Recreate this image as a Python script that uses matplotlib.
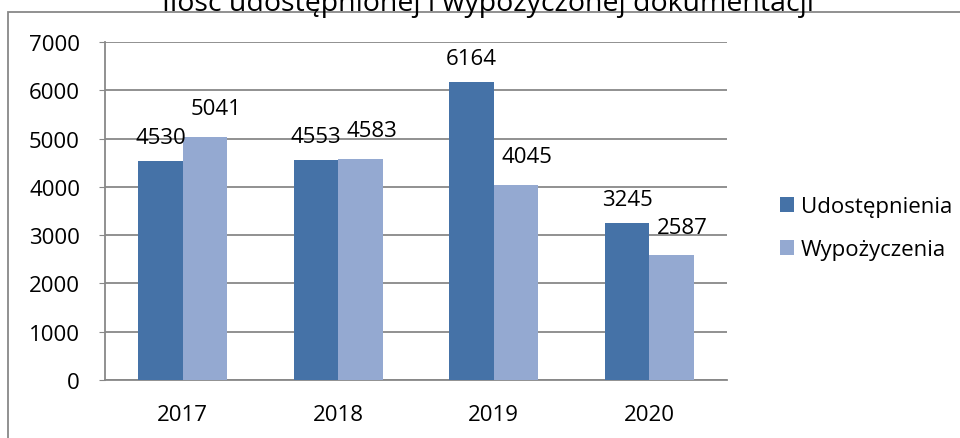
import numpy as np
import matplotlib
matplotlib.use('Agg')
from matplotlib import pyplot as plt
from matplotlib.patches import Rectangle

years = ['2017', '2018', '2019', '2020']
udostepnienia = [4530, 4553, 6164, 3245]
wypozyczenia = [5041, 4583, 4045, 2587]

plt.rcParams['font.family'] = ['Open Sans', 'DejaVu Sans']

fig = plt.figure(figsize=(9.6, 4.39), dpi=100)
ax = fig.add_axes([105/960, 58/439, 622/960, 338/439])

x = np.arange(len(years))
w = 0.285
dark = '#4572A7'
light = '#94A9D1'
grey = '#888888'

b1 = ax.bar(x - w/2, udostepnienia, w, color=dark, label='Udostępnienia', zorder=3)
b2 = ax.bar(x + w/2, wypozyczenia, w, color=light, label='Wypożyczenia', zorder=3)

for xi, v in zip(x - w/2, udostepnienia):
    ax.annotate(str(v), (xi, v), xytext=(0, 13), textcoords='offset points',
                ha='center', va='baseline', fontsize=16)
for xi, v in zip(x + w/2, wypozyczenia):
    ax.annotate(str(v), (xi, v), xytext=(8, 16), textcoords='offset points',
                ha='center', va='baseline', fontsize=16)

ax.set_xlim(-0.5, 3.5)
ax.set_ylim(0, 7000)
ax.set_yticks(range(0, 7001, 1000))
ax.set_xticks(x)
ax.set_xticklabels(years)
ax.yaxis.grid(True, color=grey, lw=1.3, zorder=0)
for s in ['top', 'right']:
    ax.spines[s].set_visible(False)
for s in ['left', 'bottom']:
    ax.spines[s].set_color(grey)
    ax.spines[s].set_linewidth(1.3)
ax.tick_params(axis='y', length=4, color=grey, labelsize=16, pad=14)
ax.tick_params(axis='x', length=0, labelsize=16, pad=17)

fig.legend(handles=[b1, b2], loc='center left', bbox_to_anchor=(760/960, 1 - 229/439),
           frameon=False, fontsize=16, handlelength=0.65, handleheight=0.65,
           handletextpad=0.3, labelspacing=1.0)

fig.text(488/960, 1 - 11/439, 'Ilość udostępnionej i wypożyczonej dokumentacji',
         ha='center', va='baseline', fontsize=20.5)

fig.patches.append(Rectangle((8/960, -0.1), 1.1, 1.1 - 13/439, transform=fig.transFigure,
                             fill=False, edgecolor=grey, lw=1.3))

fig.savefig('out.png', dpi=100)
